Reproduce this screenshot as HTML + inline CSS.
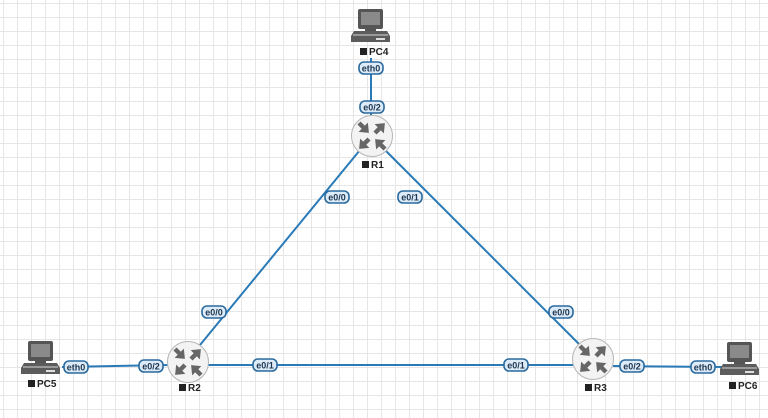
<!DOCTYPE html>
<html><head><meta charset="utf-8"><style>
html,body{margin:0;padding:0;}
body{width:768px;height:418px;overflow:hidden;background:#fff;
background-image:linear-gradient(#e6e6e6 1px,transparent 1px),linear-gradient(90deg,#e6e6e6 1px,transparent 1px);
background-size:14px 14px,14px 14px;background-position:3px 3px,3px 3px;}
svg{position:absolute;left:0;top:0}
text{font-family:"Liberation Sans",sans-serif;}
</style></head><body>
<svg width="768" height="418" viewBox="0 0 768 418">
<defs>
<g id="pc">
  <rect x="7" y="0" width="25" height="20" rx="2" fill="#555"/>
  <rect x="10" y="3" width="19" height="13" fill="#8a8a8a"/>
  <rect x="14" y="20" width="11" height="2" fill="#555"/>
  <polygon points="3,22 36,22 39,27 39,33 0,33 0,27" fill="#5c5c5c"/>
  <rect x="2" y="25" width="35" height="2" fill="#9a9a9a"/>
  <rect x="25" y="29" width="9" height="2" fill="#ddd"/>
</g>
<g id="ar"><rect x="0" y="-2.2" width="7" height="4.4"/><polygon points="6,-6.5 14,0 6,6.5"/></g>
<g id="rt">
  <circle cx="0" cy="0" r="20.5" fill="#f3f3f3" stroke="#b5b5b5" stroke-width="1"/>
  <g fill="#666">
    <use href="#ar" transform="translate(-13,-13) rotate(45)"/>
    <use href="#ar" transform="translate(3,-3) rotate(-45)"/>
    <use href="#ar" transform="translate(-3,3) rotate(135)"/>
    <use href="#ar" transform="translate(13,13) rotate(225)"/>
  </g>
</g>
</defs>
<g stroke="#2a7ab8" stroke-width="2" fill="none">
  <line x1="371" y1="58" x2="371" y2="115"/>
  <line x1="360" y1="150" x2="200" y2="345"/>
  <line x1="385" y1="150" x2="580" y2="345"/>
  <line x1="208" y1="365" x2="573" y2="365"/>
  <line x1="62" y1="367" x2="170" y2="365"/>
  <line x1="613" y1="366" x2="722" y2="367"/>
</g>
<use href="#pc" x="351" y="9"/>
<use href="#pc" x="21" y="341"/>
<use href="#pc" x="720" y="342"/>
<use href="#rt" x="372" y="136"/>
<use href="#rt" x="188" y="362"/>
<use href="#rt" x="593" y="359"/>
<g font-size="10" font-weight="bold" fill="#222">
  <rect x="360" y="48" width="7" height="7" fill="#222"/><text x="369" y="55">PC4</text>
  <rect x="362" y="161" width="7" height="7" fill="#222"/><text x="371" y="168">R1</text>
  <rect x="28" y="380" width="7" height="7" fill="#222"/><text x="37" y="387">PC5</text>
  <rect x="179" y="384" width="7" height="7" fill="#222"/><text x="188" y="391">R2</text>
  <rect x="585" y="384" width="7" height="7" fill="#222"/><text x="594" y="391">R3</text>
  <rect x="729" y="382" width="7" height="7" fill="#222"/><text x="738" y="389">PC6</text>
</g>
<g font-size="9" font-weight="bold" fill="#1d3550" text-anchor="middle">
  <g><rect x="359" y="62" width="24" height="12" rx="5" fill="#dcebf7" stroke="#2a6a9e" stroke-width="1.6"/><text x="371" y="71.5">eth0</text></g>
  <g><rect x="360" y="101" width="24" height="12" rx="5" fill="#dcebf7" stroke="#2a6a9e" stroke-width="1.6"/><text x="372" y="110.5">e0/2</text></g>
  <g><rect x="325" y="191" width="24" height="12" rx="5" fill="#dcebf7" stroke="#2a6a9e" stroke-width="1.6"/><text x="337" y="200.5">e0/0</text></g>
  <g><rect x="398" y="191" width="24" height="12" rx="5" fill="#dcebf7" stroke="#2a6a9e" stroke-width="1.6"/><text x="410" y="200.5">e0/1</text></g>
  <g><rect x="202" y="306" width="24" height="12" rx="5" fill="#dcebf7" stroke="#2a6a9e" stroke-width="1.6"/><text x="214" y="315.5">e0/0</text></g>
  <g><rect x="549" y="306" width="24" height="12" rx="5" fill="#dcebf7" stroke="#2a6a9e" stroke-width="1.6"/><text x="561" y="315.5">e0/0</text></g>
  <g><rect x="253" y="359" width="24" height="12" rx="5" fill="#dcebf7" stroke="#2a6a9e" stroke-width="1.6"/><text x="265" y="368.5">e0/1</text></g>
  <g><rect x="504" y="359" width="24" height="12" rx="5" fill="#dcebf7" stroke="#2a6a9e" stroke-width="1.6"/><text x="516" y="368.5">e0/1</text></g>
  <g><rect x="64" y="361" width="24" height="12" rx="5" fill="#dcebf7" stroke="#2a6a9e" stroke-width="1.6"/><text x="76" y="370.5">eth0</text></g>
  <g><rect x="139" y="360" width="24" height="12" rx="5" fill="#dcebf7" stroke="#2a6a9e" stroke-width="1.6"/><text x="151" y="369.5">e0/2</text></g>
  <g><rect x="620" y="360" width="24" height="12" rx="5" fill="#dcebf7" stroke="#2a6a9e" stroke-width="1.6"/><text x="632" y="369.5">e0/2</text></g>
  <g><rect x="691" y="361" width="24" height="12" rx="5" fill="#dcebf7" stroke="#2a6a9e" stroke-width="1.6"/><text x="703" y="370.5">eth0</text></g>
</g>
</svg>
</body></html>
